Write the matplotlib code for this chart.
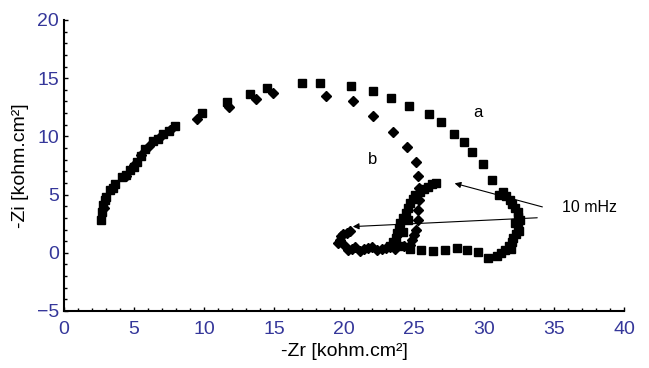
import numpy as np
import matplotlib
matplotlib.use('Agg')
import matplotlib.pyplot as plt
from matplotlib.ticker import MultipleLocator

plt.rcParams['font.family'] = ['Liberation Sans', 'DejaVu Sans']

# curve a (squares)
a_zr = [2.64, 2.71, 2.79, 2.9, 3.0, 3.29, 3.5, 3.64, 4.14, 4.4, 4.71, 5.0, 5.21, 5.5,
        5.79, 6.36, 6.7, 7.07, 7.5, 7.93,
        9.86, 11.64, 13.29, 14.5, 17.0, 18.29, 20.5, 22.07, 23.36, 24.64, 26.07, 26.93,
        27.86, 28.57, 29.14, 29.93, 30.57, 31.1, 31.36, 31.6, 31.86, 32.0, 32.21, 32.4,
        32.43, 32.6, 32.2, 32.43, 32.5, 32.29, 32.1, 32.0, 31.8, 31.5, 31.2, 31.9,
        30.93, 30.29, 29.57, 28.79, 28.07, 27.21, 26.36, 25.5, 24.71, 24.0, 23.3,
        23.5, 23.71, 23.8, 23.93, 24.0, 24.2, 24.21, 24.4, 24.6, 24.57, 24.7, 24.93,
        25.1, 25.43, 25.7, 26.0, 26.3, 26.57]
a_zi = [2.84, 3.53, 4.14, 4.5, 4.83, 5.43, 5.6, 5.95, 6.47, 6.7, 7.07, 7.4, 7.84, 8.3,
        8.88, 9.57, 9.8, 10.17, 10.5, 10.86,
        11.98, 12.93, 13.62, 14.14, 14.57, 14.57, 14.31, 13.88, 13.28, 12.59, 11.9, 11.21,
        10.17, 9.48, 8.62, 7.59, 6.29, 5.0, 5.26, 4.9, 4.57, 4.2, 3.88, 3.5,
        3.1, 2.8, 2.6, 2.33, 1.9, 1.64, 1.3, 0.95, 0.6, 0.26, 0.0, 0.3,
        -0.26, -0.43, 0.09, 0.26, 0.43, 0.26, 0.17, 0.26, 0.34, 0.6, 0.6,
        0.9, 1.29, 1.7, 2.16, 2.6, 1.8, 3.02, 3.4, 2.8, 3.88, 4.3, 4.66,
        5.0, 5.26, 5.5, 5.69, 5.9, 6.03]

# curve b (diamonds)
b_zr = [2.86, 3.43, 4.43, 5.0, 5.5, 6.07, 6.86, 7.57, 9.5, 11.79, 13.71, 14.93,
        18.71, 20.64, 22.07, 23.5, 24.5, 25.14, 25.29, 25.36, 25.36, 25.29, 25.29,
        25.14, 25.0, 24.86, 24.7, 24.29, 23.64, 23.3, 23.0, 22.7, 22.36, 22.0, 21.71,
        21.4, 21.14, 20.8, 20.57, 20.3, 20.07, 19.6, 19.71, 19.8, 19.93, 20.2, 20.43]
b_zi = [3.88, 5.6, 6.64, 7.5, 8.36, 9.14, 9.91, 10.52, 11.47, 12.5, 13.19, 13.71,
        13.45, 13.02, 11.72, 10.34, 9.05, 7.76, 6.64, 5.6, 4.57, 3.71, 2.84,
        1.98, 1.5, 1.12, 0.7, 0.6, 0.34, 0.5, 0.43, 0.3, 0.26, 0.5, 0.43,
        0.3, 0.17, 0.5, 0.34, 0.2, 0.6, 0.8, 1.12, 1.4, 1.64, 1.7, 1.9]

tick_color = '#35379a'

fig = plt.figure(figsize=(6.49, 3.68), dpi=100)
ax = fig.add_axes([0.0986, 0.1549, 0.8629, 0.7908])

ax.plot(a_zr, a_zi, 's', color='black', markersize=6, linestyle='none')
ax.plot(b_zr, b_zi, 'D', color='black', markersize=5, linestyle='none')

# 10 mHz arrows
ax.annotate('', xy=(27.71, 6.03), xytext=(34.36, 3.88),
            arrowprops=dict(arrowstyle='-|>', color='black', lw=0.8, mutation_scale=9))
ax.annotate('', xy=(20.43, 2.24), xytext=(34.0, 3.02),
            arrowprops=dict(arrowstyle='-|>', color='black', lw=0.8, mutation_scale=9))
ax.text(35.57, 3.88, '10 mHz', fontsize=11.5, va='center', ha='left')
ax.text(29.57, 12.07, 'a', fontsize=12, va='center', ha='center')
ax.text(22.07, 8.02, 'b', fontsize=12, va='center', ha='center')

ax.set_xlim(0, 40)
ax.set_ylim(-5, 20)
ax.xaxis.set_major_locator(MultipleLocator(5))
ax.xaxis.set_minor_locator(MultipleLocator(1))
ax.yaxis.set_major_locator(MultipleLocator(5))
ax.yaxis.set_minor_locator(MultipleLocator(1))
ax.tick_params(which='both', direction='in', labelsize=14, labelcolor=tick_color)
ax.tick_params(axis='x', which='major', pad=7)
ax.tick_params(which='major', length=3, width=1)
ax.tick_params(which='minor', length=2, width=1)
ax.spines['top'].set_visible(False)
ax.spines['right'].set_visible(False)
ax.spines['left'].set_linewidth(1.5)
ax.spines['bottom'].set_linewidth(1.5)

ax.set_xlabel('-Zr [kohm.cm²]', fontsize=14, labelpad=4)
ax.set_ylabel('-Zi [kohm.cm²]', fontsize=14, labelpad=6)

fig.savefig('out.png', dpi=100)
